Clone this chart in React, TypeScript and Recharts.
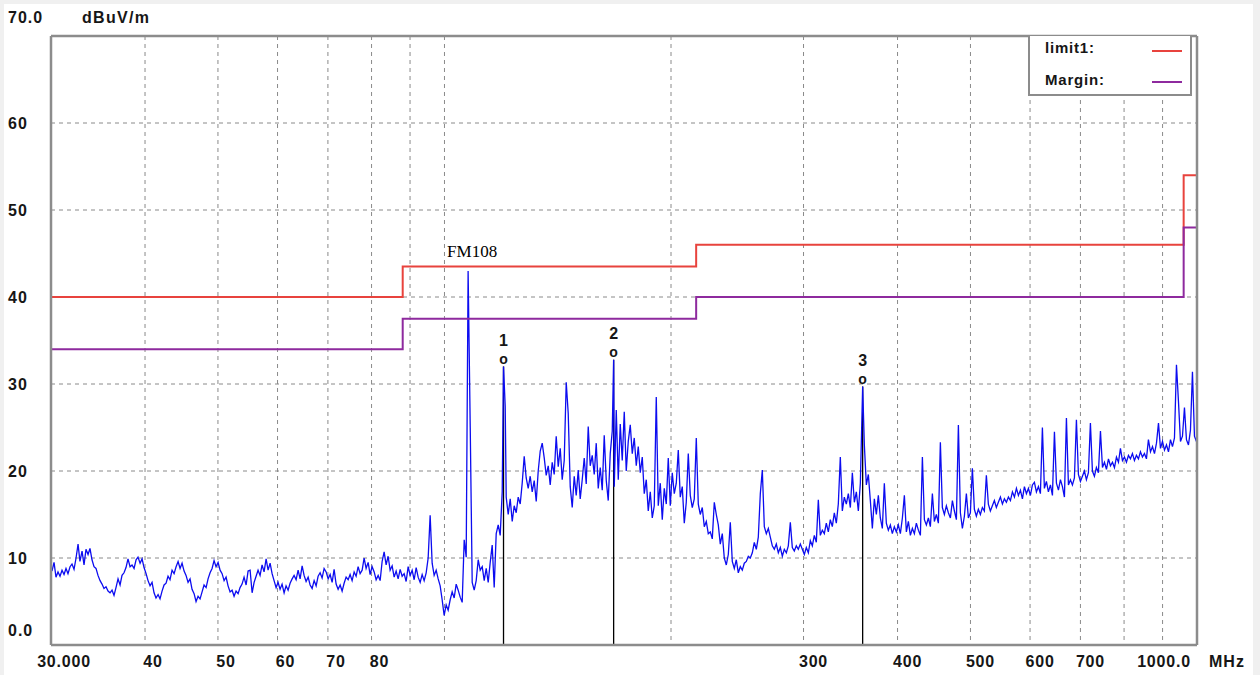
import React from 'react';
import { ComposedChart, Line, Scatter, XAxis, YAxis, CartesianGrid, ReferenceLine } from 'recharts';

// Measured spectrum: [frequency MHz, level dBuV/m]
const trace: [number, number][] = [
  [30.09, 8.5], [30.28, 9.5], [30.46, 7.8], [30.65, 8.4], [30.84, 7.9], [31.03, 8.6], [31.22, 8.1], [31.41, 8.8],
  [31.6, 8.2], [31.8, 9.0], [31.99, 9.3], [32.19, 8.7], [32.39, 10.0], [32.59, 11.6], [32.78, 9.6], [32.99, 10.8],
  [33.19, 9.2], [33.39, 11.0], [33.6, 10.4], [33.8, 11.1], [34.01, 9.8], [34.22, 9.0], [34.43, 8.8], [34.64, 8.0],
  [34.86, 7.4], [35.07, 7.0], [35.28, 6.5], [35.5, 6.7], [35.72, 6.2], [35.94, 6.0], [36.16, 6.3], [36.38, 5.7],
  [36.6, 6.6], [36.83, 7.6], [37.06, 6.9], [37.28, 8.0], [37.51, 8.3], [37.74, 8.9], [37.97, 9.9], [38.21, 9.0],
  [38.44, 9.2], [38.68, 8.8], [38.92, 9.8], [39.15, 10.1], [39.4, 9.4], [39.64, 9.9], [39.88, 8.9], [40.13, 8.2],
  [40.37, 7.4], [40.62, 6.8], [40.87, 7.2], [41.12, 6.0], [41.37, 5.4], [41.63, 5.8], [41.88, 5.3], [42.14, 6.2],
  [42.4, 6.9], [42.66, 7.1], [42.92, 7.9], [43.18, 7.5], [43.45, 8.6], [43.72, 8.2], [43.99, 9.0], [44.26, 9.6],
  [44.53, 8.8], [44.8, 9.4], [45.08, 8.5], [45.35, 8.0], [45.63, 7.2], [45.91, 7.6], [46.19, 6.4], [46.48, 5.9],
  [46.76, 5.0], [47.05, 5.6], [47.34, 5.3], [47.63, 6.1], [47.92, 6.9], [48.22, 6.6], [48.51, 7.6], [48.81, 8.3],
  [49.11, 8.8], [49.41, 9.7], [49.71, 9.0], [50.02, 9.5], [50.33, 8.6], [50.64, 8.2], [50.95, 7.4], [51.26, 7.8],
  [51.57, 6.8], [51.89, 6.1], [52.21, 6.3], [52.53, 5.6], [52.85, 6.2], [53.18, 5.9], [53.5, 6.6], [53.83, 7.0],
  [54.16, 7.8], [54.5, 6.9], [54.83, 8.5], [55.17, 8.6],
  [55.51, 6.0], [55.85, 7.2], [56.19, 7.9], [56.53, 8.6], [56.88, 8.0], [57.23, 9.2], [57.58, 8.4], [57.94, 9.9],
  [58.29, 8.6], [58.65, 9.4], [59.01, 8.2], [59.37, 7.4], [59.74, 6.6], [60.1, 7.2], [60.47, 6.4], [60.84, 7.0],
  [61.22, 6.0], [61.59, 6.8], [61.97, 6.3], [62.35, 7.1], [62.74, 7.6], [63.12, 8.0], [63.51, 7.5], [63.9, 8.6],
  [64.29, 7.6], [64.69, 9.1], [65.08, 8.0], [65.48, 7.3], [65.89, 7.8], [66.29, 6.9], [66.7, 6.5], [67.11, 7.4],
  [67.52, 6.8], [67.93, 7.9], [68.35, 8.3], [68.77, 7.7], [69.19, 8.8], [69.62, 8.4], [70.05, 7.6], [70.48, 8.1],
  [70.91, 7.2], [71.34, 8.7], [71.78, 7.0], [72.22, 6.4], [72.67, 6.9], [73.11, 6.2], [73.56, 7.1], [74.01, 7.8],
  [74.47, 7.5], [74.92, 8.1], [75.38, 7.4], [75.85, 8.4], [76.31, 7.9], [76.78, 9.0], [77.25, 8.2], [77.73, 8.6],
  [78.2, 10.0], [78.68, 8.8], [79.17, 9.5], [79.65, 8.1], [80.14, 9.0], [80.64, 8.4], [81.13, 7.5], [81.63, 8.0],
  [82.13, 7.4], [82.63, 9.6], [83.14, 10.7], [83.65, 9.2], [84.16, 10.2], [84.68, 8.6], [85.2, 9.1], [85.73, 7.8],
  [86.25, 8.5], [86.78, 7.6], [87.32, 8.7], [87.85, 7.9], [88.39, 8.2], [88.93, 7.3], [89.48, 9.0], [90.03, 8.0],
  [90.58, 8.6], [91.14, 7.5], [91.7, 8.9], [92.26, 7.8], [92.83, 7.2], [93.4, 8.1], [93.97, 7.4], [94.55, 8.3],
  [95.13, 10.0], [95.71, 14.9], [96.3, 9.4], [96.89, 8.0], [97.49, 8.6], [98.09, 7.6], [98.69, 6.8], [99.29, 5.2],
  [99.9, 3.4], [100.52, 4.6], [101.13, 4.0], [101.76, 5.2], [102.38, 6.1], [103.01, 5.4], [103.65, 7.0], [104.28, 6.3],
  [104.92, 5.5], [105.57, 4.9], [106.22, 12.1], [106.87, 10.1], [107.5, 43.0], [108.2, 25.0], [108.85, 7.2], [109.52, 6.3],
  [110.19, 7.4], [110.87, 9.8], [111.55, 8.6], [112.24, 9.0], [112.93, 7.4], [113.62, 8.8], [114.32, 7.2], [115.02, 9.5],
  [115.72, 11.5], [116.43, 6.6], [117.15, 12.8], [117.87, 13.8], [118.59, 12.6], [119.32, 17.6], [119.8, 32.0], [120.42, 27.4],
  [120.79, 17.0], [121.53, 15.0], [122.28, 16.8], [123.03, 14.2], [123.78, 16.0], [124.54, 15.2], [125.31, 17.0], [126.08, 16.2],
  [126.85, 18.6], [127.63, 21.7], [128.41, 19.2], [129.2, 18.0], [129.99, 19.4], [130.79, 17.6], [131.6, 18.9], [132.41, 16.5],
  [133.22, 20.0], [134.04, 22.3], [134.86, 23.2], [135.69, 21.5], [136.52, 19.5], [137.36, 20.6], [138.2, 18.4], [139.05, 21.0],
  [139.9, 19.6], [140.76, 24.0], [141.63, 20.5], [142.5, 22.6], [143.37, 19.0], [144.25, 21.2], [145.14, 30.2], [146.03, 26.6],
  [146.93, 18.2], [147.83, 15.8], [148.74, 19.4], [149.65, 17.2], [150.57, 20.1], [151.49, 16.8], [152.42, 19.0], [153.36, 21.5],
  [154.3, 18.5], [155.25, 25.1], [156.2, 20.6], [157.16, 21.8], [158.13, 19.6], [159.1, 23.2], [160.08, 18.0], [161.06, 20.4],
  [162.05, 17.8], [163.04, 24.1], [164.05, 18.9], [165.05, 16.6], [166.07, 22.0], [167.09, 24.6], [167.8, 32.8], [168.11, 18.2],
  [169.15, 27.0], [170.19, 19.0], [171.23, 25.4], [172.28, 21.2], [173.34, 26.8], [174.4, 20.0], [175.48, 23.4], [176.55, 25.3],
  [177.64, 22.0], [178.73, 23.8], [179.83, 20.6], [180.93, 22.8], [182.04, 19.8], [183.16, 21.6], [184.28, 17.4], [185.42, 19.0],
  [186.55, 15.4], [187.7, 17.6], [188.85, 14.6], [190.01, 16.0], [191.18, 28.5], [192.35, 16.0], [193.53, 18.6], [194.72, 14.4],
  [195.92, 18.0], [197.12, 16.2], [198.33, 21.5], [199.55, 16.0], [200.77, 19.8], [202.01, 17.4], [203.25, 18.6], [204.5, 22.4],
  [205.75, 17.0], [207.01, 18.2], [208.29, 14.0], [209.56, 16.4], [210.85, 22.0], [212.15, 17.2], [213.45, 15.8], [214.76, 16.8],
  [216.08, 23.8], [217.41, 16.2], [218.74, 15.0], [220.08, 15.8], [221.44, 13.6], [222.8, 14.2], [224.16, 12.8], [225.54, 13.0],
  [226.92, 12.2], [228.32, 16.4], [229.72, 15.0], [231.13, 13.8], [232.55, 11.6], [233.98, 12.8], [235.41, 10.0], [236.86, 9.2],
  [238.32, 10.4], [239.78, 14.1], [241.25, 9.6], [242.73, 8.8], [244.22, 9.8], [245.72, 8.3], [247.23, 9.0], [248.75, 8.6],
  [250.28, 9.4], [251.82, 9.6], [253.37, 10.2], [254.92, 10.0], [256.49, 10.6], [258.06, 11.8], [259.65, 11.0], [261.24, 12.4],
  [262.85, 17.4], [264.46, 20.1], [266.09, 13.6], [267.72, 12.8], [269.37, 13.4], [271.02, 12.4], [272.68, 11.4], [274.36, 11.0],
  [276.04, 11.6], [277.74, 10.6], [279.44, 11.2], [281.16, 10.2], [282.88, 11.0], [284.62, 10.6], [286.36, 11.4], [288.12, 14.1],
  [289.89, 11.2], [291.67, 10.8], [293.46, 11.4], [295.26, 11.0], [297.08, 11.6], [298.9, 11.0], [300.74, 10.4], [302.58, 11.2],
  [304.44, 10.6], [306.31, 12.0], [308.19, 11.4], [310.08, 12.6], [311.98, 11.8], [313.9, 16.7], [315.82, 12.6], [317.76, 13.2],
  [319.71, 12.8], [321.67, 14.0], [323.65, 13.0], [325.64, 14.4], [327.63, 13.6], [329.65, 15.2], [331.67, 14.0], [333.7, 16.2],
  [335.75, 21.6], [337.81, 15.4], [339.89, 17.0], [341.97, 16.2], [344.07, 17.4], [346.22, 15.8], [348.34, 19.8], [350.48, 16.4],
  [352.63, 17.6], [354.79, 15.4], [356.97, 18.6], [359.5, 29.7], [361.37, 23.0], [363.59, 18.4], [365.82, 19.6], [368.06, 16.6],
  [370.32, 13.4], [372.59, 16.8], [374.88, 15.0], [377.18, 17.2], [379.49, 14.6], [381.82, 13.4], [384.16, 18.6], [386.52, 14.0],
  [388.89, 13.2], [391.28, 13.8], [393.68, 12.8], [396.09, 13.6], [398.52, 13.0], [400.97, 13.8], [403.48, 12.8], [405.96, 14.6],
  [408.45, 17.2], [410.95, 13.0], [413.47, 14.2], [416.01, 12.6], [418.56, 13.4], [421.13, 12.8], [423.71, 14.0], [426.34, 13.2],
  [428.96, 12.6], [431.59, 21.6], [434.24, 14.4], [436.9, 13.8], [439.58, 14.6], [442.27, 13.6], [444.99, 17.4], [447.72, 14.2],
  [450.46, 15.0], [453.23, 14.0], [456.01, 23.3], [458.8, 15.8], [461.62, 15.0], [464.45, 16.0], [467.3, 15.2], [470.21, 14.6],
  [473.1, 16.6], [476.0, 15.4], [478.92, 14.4], [481.85, 25.3], [484.81, 15.2], [487.78, 13.4], [490.77, 14.8], [493.78, 17.4],
  [496.81, 14.6], [499.86, 15.2], [502.92, 20.3], [506.01, 15.6], [509.11, 14.8], [512.24, 15.6], [515.38, 15.0], [518.54, 15.8],
  [521.72, 15.4], [524.92, 19.5], [528.14, 16.2], [531.38, 15.4], [534.64, 16.0], [537.92, 16.6], [541.22, 15.8], [544.54, 16.4],
  [547.98, 17.0], [551.34, 16.2], [554.72, 16.8], [558.12, 16.4], [561.57, 17.0], [565.01, 16.6], [568.48, 17.6], [571.97, 17.0],
  [575.48, 18.0], [579.01, 17.2], [582.56, 17.8], [586.14, 16.8], [589.73, 18.2], [593.35, 17.4], [596.99, 18.0], [600.65, 17.2],
  [604.34, 18.4], [608.04, 18.7], [611.77, 17.6], [615.52, 18.2], [619.3, 17.4], [623.1, 25.0], [626.92, 18.0], [630.77, 18.8],
  [634.64, 17.6], [638.61, 18.4], [642.53, 17.2], [646.47, 24.5], [650.44, 18.6], [654.43, 17.8], [658.44, 19.0], [662.48, 18.2],
  [666.54, 17.0], [670.63, 26.1], [674.75, 18.4], [678.89, 19.0], [683.05, 18.4], [687.24, 19.2], [691.46, 25.9], [695.7, 19.6],
  [699.97, 18.8], [704.26, 19.4], [708.58, 20.0], [712.93, 19.0], [717.3, 19.8], [721.7, 25.5], [726.13, 20.0], [730.58, 19.4],
  [735.06, 20.4], [739.57, 19.8], [744.24, 24.6], [748.81, 20.4], [753.4, 21.0], [758.02, 20.2], [762.67, 21.4], [767.35, 20.6],
  [772.06, 21.0], [776.79, 20.4], [781.56, 21.6], [786.35, 21.0], [791.17, 22.6], [796.03, 21.2], [800.91, 21.6], [805.82, 21.0],
  [810.76, 21.8], [815.74, 21.4], [820.74, 22.0], [825.78, 21.2], [830.84, 21.8], [835.94, 21.4], [841.06, 22.2], [846.22, 21.6],
  [851.41, 22.0], [856.64, 21.4], [861.89, 23.6], [867.33, 22.2], [872.65, 22.8], [878.0, 22.0], [883.39, 23.2], [888.81, 25.5],
  [894.26, 22.6], [899.75, 23.4], [905.27, 22.4], [910.82, 23.0], [916.41, 22.2], [922.03, 23.6], [927.68, 22.8], [933.37, 23.8],
  [939.1, 32.2], [944.86, 28.0], [950.66, 23.4], [956.49, 24.0], [962.36, 27.3], [968.26, 23.6], [974.2, 23.0], [980.18, 24.7],
  [986.19, 31.4], [992.24, 24.0], [998.33, 23.4], [1000, 24.0],
];

const limitFreqs = [30, 88, 216, 960, 1000];
const limitLevels = [40, 43.5, 46, 54, 54];
const marginLevels = [34, 37.5, 40, 48, 48];

const markerIds = ['1', '2', '3'];
const markerFreqs = [119.8, 167.8, 359.5];
const markerLevels = [32.0, 32.8, 29.7];

const noteText = 'FM108';
const noteFreq = 107.5;
const noteLevel = 43.0;

const yTicks = [0, 10, 20, 30, 40, 50, 60, 70];
const yTickLabels: Record<number, string> = { 0: '0.0', 10: '10', 20: '20', 30: '30', 40: '40', 50: '50', 60: '60', 70: '70.0' };
const xTicks = [30, 40, 50, 60, 70, 80, 90, 100, 200, 300, 400, 500, 600, 700, 800, 900, 1000];
const xTickLabels: Record<number, string> = {
  30: '30.000', 40: '40', 50: '50', 60: '60', 70: '70', 80: '80',
  300: '300', 400: '400', 500: '500', 600: '600', 700: '700', 1000: '1000.0',
};
const yUnit = 'dBuV/m';
const xUnit = 'MHz';
const legendNames = ['limit1:', 'Margin:'];

const traceRows = trace.map(([f, v]) => ({ f, v }));
const limitRows = limitFreqs.map((f, i) => ({ f, v: limitLevels[i] }));
const marginRows = limitFreqs.map((f, i) => ({ f, v: marginLevels[i] }));
const markerRows = markerIds.map((n, i) => ({ f: markerFreqs[i], v: markerLevels[i], n }));
const stemRows = markerFreqs.map((f, i) => [{ f, v: 0 }, { f, v: markerLevels[i] }]);
const noteRows = [{ f: noteFreq, v: noteLevel, label: noteText }];

const SANS = "'Liberation Sans', Arial, sans-serif";
const SERIF = "'Liberation Serif', 'Times New Roman', serif";
const RED = '#e8433d';
const PURPLE = '#8e2a9e';
const BLUE = '#0c0cf0';
const FRAME = '#8c8c8c';
const GRID = '#8a8a8a';
const INK = '#161616';

const YTick = (props: any) => {
  const { y, payload } = props;
  const val = payload.value as number;
  let yy = y;
  if (val === 70) yy = y - 19;
  if (val === 0) yy = y - 15;
  return (
    <g>
      <text x={8} y={yy} dy="0.36em" textAnchor="start" fontFamily={SANS} fontWeight="bold" fontSize={16} letterSpacing={1} fill={INK}>
        {yTickLabels[val]}
      </text>
      {val === 70 ? (
        <text x={82} y={yy} dy="0.36em" textAnchor="start" fontFamily={SANS} fontWeight="bold" fontSize={16} letterSpacing={1.3} fill={INK}>
          {yUnit}
        </text>
      ) : null}
    </g>
  );
};

const XTick = (props: any) => {
  const { x, payload } = props;
  const val = payload.value as number;
  const label = xTickLabels[val];
  if (!label) return <g />;
  let cx = x;
  if (val === 30) cx = x + 13;
  else if (val < 100) cx = x + 8;
  else if (val === 1000) cx = x - 33;
  else cx = x + 10;
  return (
    <g>
      <text x={cx} y={661} dy="0.36em" textAnchor="middle" fontFamily={SANS} fontWeight="bold" fontSize={16} letterSpacing={0.8} fill={INK}>
        {label}
      </text>
      {val === 1000 ? (
        <text x={1209} y={661} dy="0.36em" textAnchor="start" fontFamily={SANS} fontWeight="bold" fontSize={16} letterSpacing={1} fill={INK}>
          {xUnit}
        </text>
      ) : null}
    </g>
  );
};

const MarkerShape = (props: any) => {
  const { cx, cy, payload } = props;
  return (
    <g>
      <text x={cx} y={cy - 26} dy="0.36em" textAnchor="middle" fontFamily={SANS} fontWeight="bold" fontSize={16} fill={INK}>
        {payload.n}
      </text>
      <text x={cx} y={cy - 8} dy="0.36em" textAnchor="middle" fontFamily={SANS} fontWeight="bold" fontSize={14} fill={INK}>
        o
      </text>
    </g>
  );
};

const NoteShape = (props: any) => {
  const { cx, cy, payload } = props;
  return (
    <text x={cx + 4} y={cy - 14} textAnchor="middle" fontFamily={SERIF} fontSize={17} fill="#000">
      {payload.label}
    </text>
  );
};

export default function App() {
  return (
    <div style={{ position: 'absolute', left: 0, top: 0, width: 1260, height: 675, background: '#f0f0f0', overflow: 'hidden' }}>
      <div style={{ position: 'absolute', left: 4, top: 4, width: 1249, height: 671, background: '#ffffff' }} />
      <div style={{ position: 'absolute', left: 0, top: 0 }}>
        <ComposedChart width={1260} height={675} margin={{ top: 36, right: 63, bottom: 0, left: 0 }}>
          <CartesianGrid stroke={GRID} strokeDasharray="4 4" strokeWidth={1} />
          <XAxis
            dataKey="f"
            type="number"
            scale="log"
            domain={[30, 1000]}
            ticks={xTicks}
            interval={0}
            allowDataOverflow
            height={30}
            tick={XTick}
            tickLine={false}
            axisLine={false}
          />
          <YAxis
            dataKey="v"
            type="number"
            domain={[0, 70]}
            ticks={yTicks}
            interval={0}
            allowDataOverflow
            width={51}
            tick={YTick}
            tickLine={false}
            axisLine={false}
          />
          {stemRows.map((rows, i) => (
            <Line key={'stem' + i} data={rows} dataKey="v" stroke="#000" strokeWidth={1.3} dot={false} isAnimationActive={false} />
          ))}
          <Line data={traceRows} dataKey="v" stroke={BLUE} strokeWidth={1.3} dot={false} isAnimationActive={false} />
          <Line data={limitRows} dataKey="v" type="stepAfter" stroke={RED} strokeWidth={2} dot={false} isAnimationActive={false} />
          <Line data={marginRows} dataKey="v" type="stepAfter" stroke={PURPLE} strokeWidth={2} dot={false} isAnimationActive={false} />
          <Scatter data={markerRows} dataKey="v" shape={MarkerShape} isAnimationActive={false} />
          <Scatter data={noteRows} dataKey="v" shape={NoteShape} isAnimationActive={false} />
          <ReferenceLine x={30} stroke={FRAME} strokeWidth={2.5} />
          <ReferenceLine x={1000} stroke={FRAME} strokeWidth={2.5} />
          <ReferenceLine y={0} stroke={FRAME} strokeWidth={2.5} />
          <ReferenceLine y={70} stroke={FRAME} strokeWidth={2.5} />
        </ComposedChart>
      </div>
      <div
        style={{
          position: 'absolute', left: 1028, top: 36, width: 160, height: 58, background: '#fff',
          borderLeft: `2px solid ${FRAME}`, borderRight: `2px solid ${FRAME}`, borderBottom: `2px solid ${FRAME}`,
          fontFamily: SANS, fontWeight: 'bold', fontSize: 15, letterSpacing: 0.8, color: INK,
        }}
      >
        <div style={{ position: 'absolute', left: 15, top: 3, lineHeight: '18px' }}>{legendNames[0]}</div>
        <div style={{ position: 'absolute', left: 122, top: 14, width: 30, height: 2, background: RED }} />
        <div style={{ position: 'absolute', left: 15, top: 35, lineHeight: '18px' }}>{legendNames[1]}</div>
        <div style={{ position: 'absolute', left: 122, top: 45, width: 30, height: 2, background: PURPLE }} />
      </div>
    </div>
  );
}
